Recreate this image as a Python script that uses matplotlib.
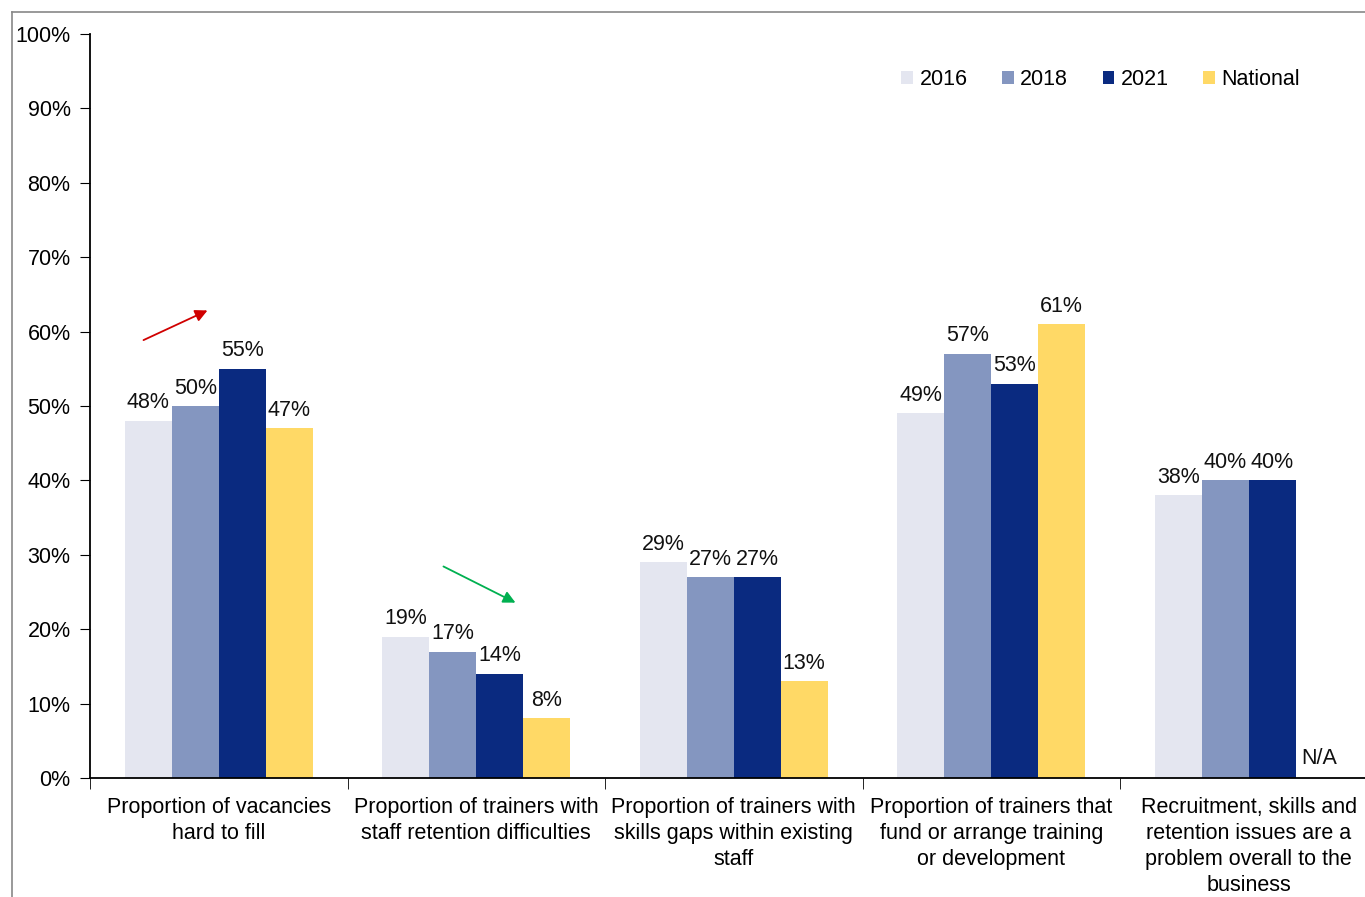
import matplotlib.pyplot as plt
import numpy as np
from matplotlib.lines import Line2D

plt.rcParams['font.family'] = ['Liberation Sans', 'DejaVu Sans']

# Data
categories = ["Proportion of vacancies\nhard to fill",
              "Proportion of trainers with\nstaff retention difficulties",
              "Proportion of trainers with\nskills gaps within existing\nstaff",
              "Proportion of trainers that\nfund or arrange training\nor development",
              "Recruitment, skills and\nretention issues are a\nproblem overall to the\nbusiness"]
series_names = ["2016", "2018", "2021", "National"]
v2016 = [48, 19, 29, 49, 38]
v2018 = [50, 17, 27, 57, 40]
v2021 = [55, 14, 27, 53, 40]
vnational = [47, 8, 13, 61, None]
colors = ["#E4E6F0", "#8496C0", "#0A2A80", "#FFD966"]

fs = 15.5
fig = plt.figure(figsize=(13.65, 8.97), dpi=100)
ax = fig.add_axes([90/1365, 119/897, 1287.5/1365, 744/897])

x = np.arange(len(categories))
w = 0.1825
allvals = [v2016, v2018, v2021, vnational]
for i, (vals, col, name) in enumerate(zip(allvals, colors, series_names)):
    pos = x + (i - 1.5) * w
    for p, v in zip(pos, vals):
        if v is None:
            ax.text(p, 0.012, "N/A", ha='center', va='bottom', fontsize=fs, color='#111111')
            continue
        ax.bar(p, v / 100, w, color=col)
        ax.text(p, v / 100 + 0.01, f"{v}%", ha='center', va='bottom', fontsize=fs, color='#111111')
    ax.bar([0], [0], 0, color=col, label=name)

# trend arrows
ax.annotate("", xy=(-0.034, 0.630), xytext=(-0.302, 0.587),
            arrowprops=dict(arrowstyle="-|>", color="#D00000", lw=1.3, mutation_scale=18))
ax.annotate("", xy=(1.162, 0.234), xytext=(0.863, 0.286),
            arrowprops=dict(arrowstyle="-|>", color="#00B050", lw=1.3, mutation_scale=18))

ax.set_xlim(-0.5, len(categories) - 0.5)
ax.set_ylim(0, 1)
ax.set_yticks(np.arange(0, 1.01, 0.1))
ax.set_yticklabels([f"{int(round(t*100))}%" for t in np.arange(0, 1.01, 0.1)], fontsize=fs)
ax.set_xticks(x)
ax.set_xticklabels(categories, fontsize=fs, linespacing=1.3)
ax.set_xticks(np.arange(-0.5, len(categories), 1), minor=True)
ax.tick_params(axis='x', which='major', length=0, pad=14)
ax.tick_params(axis='x', which='minor', length=8, direction='out')
ax.tick_params(axis='y', length=7, pad=7)
for s in ['top', 'right']:
    ax.spines[s].set_visible(False)
for s in ['left', 'bottom']:
    ax.spines[s].set_linewidth(1.3)

ax.legend(loc='upper left', bbox_to_anchor=(0.615, 0.979), ncol=4, frameon=False,
          fontsize=fs, handlelength=0.55, handleheight=0.55, handletextpad=0.3,
          columnspacing=1.6)

# outer frame
fig.add_artist(Line2D([12/1365, 12/1365], [0, 1 - 12/897], color='#888888', lw=1.2))
fig.add_artist(Line2D([12/1365, 1], [1 - 12/897, 1 - 12/897], color='#888888', lw=1.2))

fig.savefig("out.png", dpi=100)
